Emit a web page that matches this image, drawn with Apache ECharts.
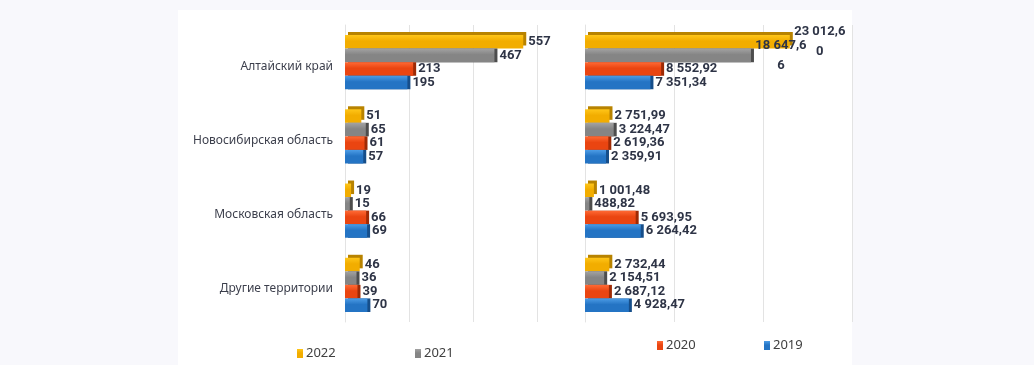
<!DOCTYPE html>
<html>
<head>
<meta charset="utf-8">
<script src="https://cdn.jsdelivr.net/npm/echarts@6/dist/echarts.min.js"></script>
<style>
html,body{margin:0;padding:0;background:#f8f8fc;}
#panel{position:absolute;left:178px;top:10px;width:674px;height:355px;background:#ffffff;}
#chart{position:absolute;left:0;top:0;width:1034px;height:365px;}
</style>
</head>
<body>
<div id="panel"></div>
<div id="chart"></div>
<script>
const categories = ['Алтайский край', 'Новосибирская область', 'Московская область', 'Другие территории'];
const years = ['2022', '2021', '2020', '2019'];

// Left chart (counts)
const left2022 = [557, 51, 19, 46];
const left2021 = [467, 65, 15, 36];
const left2020 = [213, 61, 66, 39];
const left2019 = [195, 57, 69, 70];

// Right chart (amounts)
const right2022 = [23012.6, 2751.99, 1001.48, 2732.44];
const right2021 = [18647.66, 3224.47, 488.82, 2154.51];
const right2020 = [8552.92, 2619.36, 5693.95, 2687.12];
const right2019 = [7351.34, 2359.91, 6264.42, 4928.47];

// Label texts as printed in the picture (lines split as in the picture)
const rightLabels2022 = [['23 012,6', '0'], ['2 751,99'], ['1 001,48'], ['2 732,44']];
const rightLabels2021 = [['18 647,6', '6'], ['3 224,47'], ['488,82'], ['2 154,51']];
const rightLabels2020 = [['8 552,92'], ['2 619,36'], ['5 693,95'], ['2 687,12']];
const rightLabels2019 = [['7 351,34'], ['2 359,91'], ['6 264,42'], ['4 928,47']];

const colors = {
  '2022': ['#ffc619', '#f2ad00', '#b88300'],
  '2021': ['#a3a3a3', '#858585', '#4d4d4d'],
  '2020': ['#ff6a35', '#ea4511', '#9e2a05'],
  '2019': ['#4c9ce6', '#2474c4', '#164e8a']
};

const labelFontFamily = 'Roboto, "Liberation Sans", sans-serif';

function makeSeries(name, data, gridIdx, labels) {
  const c = colors[name];
  return {
    name: name,
    type: 'bar',
    xAxisIndex: gridIdx,
    yAxisIndex: gridIdx,
    data: data,
    barGap: '0%',
    barCategoryGap: '27%',
    itemStyle: {
      color: {
        type: 'linear', x: 0, y: 0, x2: 0, y2: 1,
        colorStops: [{offset: 0, color: c[0]}, {offset: 0.45, color: c[1]}, {offset: 1, color: c[1]}]
      },
      shadowColor: c[2],
      shadowBlur: 0,
      shadowOffsetX: 3,
      shadowOffsetY: name === '2022' ? -3 : 0
    },
    label: {
      show: true,
      position: 'right',
      distance: 5,
      color: '#2e3446',
      fontFamily: labelFontFamily,
      fontWeight: 'bold',
      fontSize: 13,
      lineHeight: 20,
      formatter: function (p) {
        if (!labels) return String(p.value);
        const lines = labels[p.dataIndex];
        if (lines.length === 1) return lines[0];
        return lines.map(function (l) { return '{c|' + l + '}'; }).join('\n');
      },
      rich: {
        c: {
          width: 50, align: 'center', color: '#2e3446', fontFamily: labelFontFamily,
          fontWeight: 'bold', fontSize: 13, lineHeight: 20
        }
      }
    }
  };
}

const series = [];
const leftSets = [left2022, left2021, left2020, left2019];
const rightSets = [right2022, right2021, right2020, right2019];
const rightLabelSets = [rightLabels2022, rightLabels2021, rightLabels2020, rightLabels2019];
years.forEach(function (y, i) {
  series.push(makeSeries(y, leftSets[i], 0, null));
});
years.forEach(function (y, i) {
  series.push(makeSeries(y, rightSets[i], 1, rightLabelSets[i]));
});

function legendAt(name, left, top) {
  return {
    data: [name],
    left: left,
    top: top,
    itemWidth: 6,
    itemHeight: 9,
    itemGap: 4,
    icon: 'rect',
    textStyle: {color: '#404040', fontSize: 13, fontFamily: '"Noto Sans", sans-serif', padding: [0, 0, 0, -2]}
  };
}

const chart = echarts.init(document.getElementById('chart'), null, {renderer: 'canvas'});
chart.setOption({
  backgroundColor: 'transparent',
  animation: false,
  color: [colors['2022'][1], colors['2021'][1], colors['2020'][1], colors['2019'][1]],
  legend: [
    legendAt('2022', 292, 342),
    legendAt('2021', 410, 342),
    legendAt('2020', 652, 334),
    legendAt('2019', 759, 334)
  ],
  grid: [
    {left: 345, right: 497, top: 25, bottom: 43},
    {left: 585, right: 182, top: 25, bottom: 43}
  ],
  xAxis: [
    {
      type: 'value', gridIndex: 0, min: 0, max: 600, interval: 200,
      axisLabel: {show: false}, axisLine: {show: false}, axisTick: {show: false},
      splitLine: {show: true, lineStyle: {color: '#e3e3e3', width: 1}}
    },
    {
      type: 'value', gridIndex: 1, min: 0, max: 30000, interval: 10000,
      axisLabel: {show: false}, axisLine: {show: false}, axisTick: {show: false},
      splitLine: {show: true, lineStyle: {color: '#e3e3e3', width: 1}}
    }
  ],
  yAxis: [
    {
      type: 'category', gridIndex: 0, data: categories, inverse: true,
      axisLine: {show: true, lineStyle: {color: '#e3e3e3'}},
      axisTick: {show: false},
      axisLabel: {
        color: '#3c3f4c', fontSize: 12, margin: 12,
        fontFamily: '"Noto Sans", "Open Sans", sans-serif',
        verticalAlign: 'top',
        lineHeight: 8
      }
    },
    {
      type: 'category', gridIndex: 1, data: categories, inverse: true,
      axisLine: {show: true, lineStyle: {color: '#e3e3e3'}},
      axisTick: {show: false},
      axisLabel: {show: false}
    }
  ],
  series: series
});
</script>
</body>
</html>
